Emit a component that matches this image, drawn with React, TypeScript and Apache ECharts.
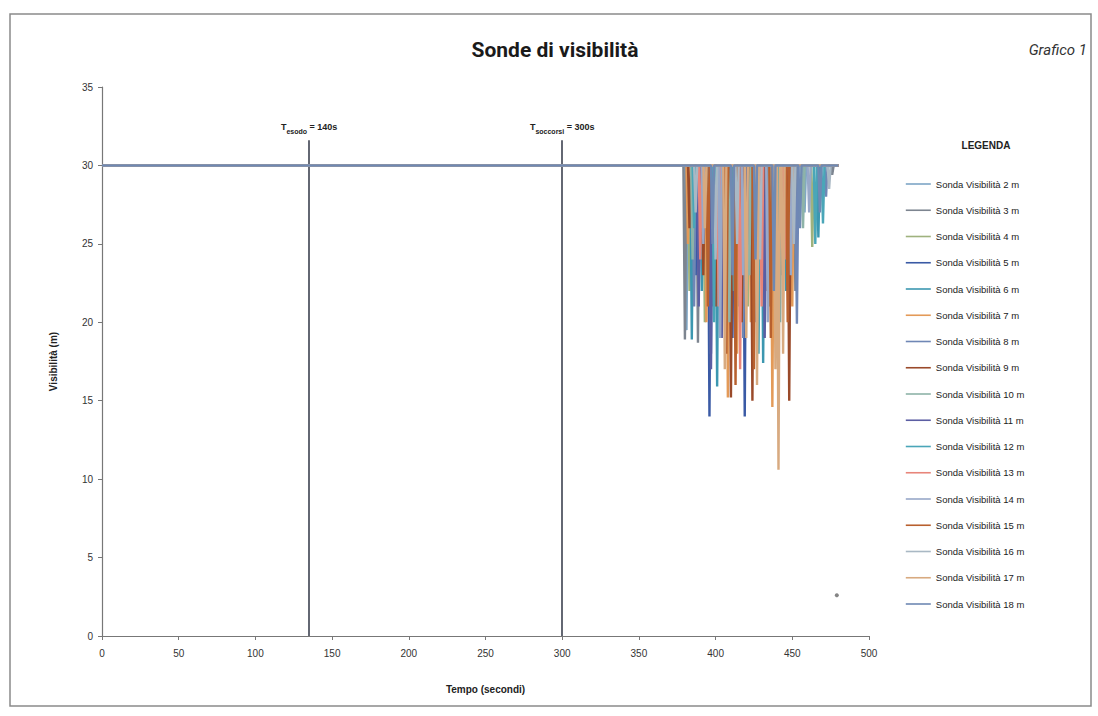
import React, { useEffect, useRef } from "react";
import * as echarts from "echarts";

type P = [number, number];

const seriesNames: string[] = [
  "Sonda Visibilità 2 m", "Sonda Visibilità 3 m", "Sonda Visibilità 4 m", "Sonda Visibilità 5 m",
  "Sonda Visibilità 6 m", "Sonda Visibilità 7 m", "Sonda Visibilità 8 m", "Sonda Visibilità 9 m",
  "Sonda Visibilità 10 m", "Sonda Visibilità 11 m", "Sonda Visibilità 12 m", "Sonda Visibilità 13 m",
  "Sonda Visibilità 14 m", "Sonda Visibilità 15 m", "Sonda Visibilità 16 m", "Sonda Visibilità 17 m",
  "Sonda Visibilità 18 m",
];

const seriesColors: string[] = [
  "#7ea6c6", "#7d8590", "#9fb27e", "#3a5aa5", "#3c97b0", "#e39a58", "#6f87b5", "#9a4a2a",
  "#8eb3a8", "#5b5ea3", "#4aa6b8", "#e8857a", "#98a8c8", "#b8602e", "#a9b8c4", "#d8aa80",
  "#6f89b3",
];

const s2m: P[] = [[0,30],[380,30],[381,19.5],[382,30],[388,30],[389,23],[390,30],[398,30],[399,21],[400,30],[412,30],[413,24],[414,30],[426,30],[427,22],[428,30],[443,30],[444,25],[445,30],[457,30],[458,27],[459,30],[480,30]];
const s3m: P[] = [[0,30],[379,30],[380,18.9],[381,30],[387.5,30],[388.5,18.7],[389.5,30],[402,30],[403,23],[404,30],[415,30],[416,20],[417,30],[433,30],[434,24],[435,30],[451,30],[452,22],[453,30],[475,30],[476,29.4],[477,30],[480,30]];
const s4m: P[] = [[0,30],[382,30],[383,22],[384,30],[392,30],[393,20],[394,30],[405,30],[406,24],[407,30],[420,30],[421,21],[422,30],[436,30],[437,23],[438,30],[462,30],[463,24.8],[464,30],[480,30]];
const s5m: P[] = [[0,30],[386,30],[387,23],[388,30],[395,30],[396,14],[397,30],[398,21],[399,30],[410,30],[411,19],[412,30],[418,30],[419,14],[420,30],[425,30],[426,20],[427,30],[439,30],[440,24],[441,30],[480,30]];
const s6m: P[] = [[0,30],[383.5,30],[384.5,18.9],[385.5,30],[390,30],[391,22],[392,30],[400,30],[401,15.9],[402,30],[414,30],[415,21],[416,30],[430,30],[431,17.4],[432,30],[445,30],[446,22],[447,30],[466,30],[467,25.4],[468,30],[480,30]];
const s7m: P[] = [[0,30],[381,30],[382,25],[383,30],[393,30],[394,20],[395,30],[407,30],[408,15.2],[409,30],[413,30],[414,18],[415,30],[422,30],[423,20],[424,30],[436,30],[437,14.6],[438,30],[449,30],[450,21],[451,30],[480,30]];
const s8m: P[] = [[0,30],[385,30],[386,21],[387,30],[396,30],[397,18],[398,30],[404,30],[405,22],[406,30],[417,30],[418,19],[419,30],[428,30],[429,23],[430,30],[452,30],[453,19.9],[454,30],[471,30],[472,28],[473,30],[480,30]];
const s9m: P[] = [[0,30],[382,30],[383,26],[384,30],[391,30],[392,23],[393,30],[399,30],[400,21],[401,30],[409,30],[410,15.2],[411,30],[416,30],[417,20],[418,30],[423,30],[424,15],[425,30],[432,30],[433,22],[434,30],[447,30],[448,15],[449,30],[480,30]];
const s10m: P[] = [[0,30],[384,30],[385,24],[386,30],[394,30],[395,22],[396,30],[408,30],[409,20],[410,30],[421,30],[422,23],[423,30],[434,30],[435,21],[436,30],[456,30],[457,26],[458,30],[480,30]];
const s11m: P[] = [[0,30],[388,30],[389,21],[390,30],[396,30],[397,17],[398,30],[403,30],[404,19],[405,30],[419,30],[420,22],[421,30],[431,30],[432,19],[433,30],[442,30],[443,23],[444,30],[480,30]];
const s12m: P[] = [[0,30],[385,30],[386,26],[387,30],[398,30],[399,20],[400,30],[411,30],[412,22],[413,30],[427,30],[428,18],[429,30],[441,30],[442,20],[443,30],[464,30],[465,25],[466,30],[469,30],[470,26.3],[471,30],[480,30]];
const s13m: P[] = [[0,30],[389,30],[390,24],[391,30],[401,30],[402,21],[403,30],[415,30],[416,17],[417,30],[429,30],[430,21],[431,30],[444,30],[445,24],[446,30],[480,30]];
const s14m: P[] = [[0,30],[391,30],[392,25],[393,30],[402,30],[403,19],[404,30],[417,30],[418,23],[419,30],[433,30],[434,20],[435,30],[448,30],[449,23],[450,30],[460,30],[461,27],[462,30],[480,30]];
const s15m: P[] = [[0,30],[394,30],[395,21],[396,30],[406,30],[407,18],[408,30],[412,30],[413,16],[414,30],[424,30],[425,17],[426,30],[435,30],[436,19],[437,30],[446,30],[447,20],[448,30],[480,30]];
const s16m: P[] = [[0,30],[386,30],[387,27],[388,30],[399,30],[400,24],[401,30],[413,30],[414,25],[415,30],[428,30],[429,24],[430,30],[450,30],[451,25],[452,30],[473,30],[474,28.5],[475,30],[480,30]];
const s17m: P[] = [[0,30],[392,30],[393,26],[394,30],[405,30],[406,17],[407,30],[419,30],[420,19],[421,30],[426,30],[427,16],[428,30],[438,30],[439,17],[440,30],[441,10.6],[442,30],[443,30],[444,18],[445,30],[480,30]];
const s18m: P[] = [[0,30],[397,30],[398,25],[399,30],[410,30],[411,23],[412,30],[425,30],[426,24],[427,30],[437,30],[438,22],[439,30],[454,30],[455,26],[456,30],[467,30],[468,27],[469,30],[480,30]];

const seriesData: P[][] = [s2m, s3m, s4m, s5m, s6m, s7m, s8m, s9m, s10m, s11m, s12m, s13m, s14m, s15m, s16m, s17m, s18m];

// event markers (time, top of line)
const eventTimes: number[] = [135, 300];
const eventTop: number = 31.6;
const eventSub: string[] = ["esodo", "soccorsi"];
const eventValues: string[] = ["140s", "300s"];

const strayPoints: P[] = [[479, 2.6]];

const xTicks = { min: 0, max: 500, interval: 50 };
const yTicks = { min: 0, max: 35, interval: 5 };

export default function App() {
  const ref = useRef<HTMLDivElement>(null);
  useEffect(() => {
    if (!ref.current) return;
    const chart = echarts.init(ref.current, undefined, { renderer: "svg" });
    const font = "Liberation Sans, Arial, sans-serif";
    const lines: any[] = seriesNames.map((name, i) => ({
      name,
      type: "line",
      data: seriesData[i],
      symbol: "none",
      showSymbol: false,
      lineStyle: { width: 2.4, color: seriesColors[i] },
      itemStyle: { color: seriesColors[i] },
      z: 2 + i,
    }));
    const markers = {
      name: "eventi",
      type: "line",
      data: [],
      symbol: "none",
      z: 30,
      markLine: {
        silent: true,
        symbol: "none",
        animation: false,
        lineStyle: { color: "#3d4250", width: 1.6, type: "solid" },
        label: {
          show: true,
          position: "end",
          distance: 5,
          fontFamily: font,
          color: "#222",
        },
        data: eventTimes.map((t, i) => [
          {
            coord: [t, 0],
            label: {
              formatter: `{a|T}{b|${eventSub[i]}}{a| = ${eventValues[i]}}`,
              rich: {
                a: { fontSize: 9, fontWeight: "bold", fontFamily: font, color: "#222", verticalAlign: "top", lineHeight: 13 },
                b: { fontSize: 7, fontWeight: "bold", fontFamily: font, color: "#222", verticalAlign: "bottom", lineHeight: 13 },
              },
            },
          },
          { coord: [t, eventTop] },
        ]),
      },
    };
    const stray = {
      name: "stray",
      type: "scatter",
      data: strayPoints,
      symbolSize: 4,
      itemStyle: { color: "#666" },
      z: 40,
    };
    chart.setOption({
      animation: false,
      backgroundColor: "#fff",
      grid: { left: 102, right: 229, top: 87, bottom: 80, containLabel: false },
      legend: {
        data: seriesNames,
        orient: "vertical",
        left: 905,
        top: 179,
        padding: 0,
        itemWidth: 25,
        itemHeight: 10,
        itemGap: 16.25,
        itemStyle: { opacity: 0 },
        lineStyle: { width: 1.6 },
        textStyle: { fontSize: 9.5, color: "#222", fontFamily: font },
        selectedMode: false,
      },
      xAxis: {
        type: "value",
        ...xTicks,
        name: "Tempo (secondi)",
        nameLocation: "middle",
        nameGap: 48,
        nameTextStyle: { fontSize: 10, fontWeight: "bold", color: "#222", fontFamily: font },
        axisLine: { show: true, lineStyle: { color: "#777", width: 1.2 } },
        axisTick: { show: true, length: 4, lineStyle: { color: "#777" } },
        axisLabel: { fontSize: 10, color: "#333", margin: 12, fontFamily: font },
        splitLine: { show: false },
      },
      yAxis: {
        type: "value",
        ...yTicks,
        name: "Visibilità (m)",
        nameLocation: "middle",
        nameGap: 44,
        nameTextStyle: { fontSize: 10, fontWeight: "bold", color: "#222", fontFamily: font },
        axisLine: { show: true, lineStyle: { color: "#777", width: 1.2 } },
        axisTick: { show: true, length: 4, lineStyle: { color: "#777" } },
        axisLabel: { fontSize: 10, color: "#333", margin: 9, fontFamily: font },
        splitLine: { show: false },
      },
      graphic: [
        {
          type: "rect",
          shape: { x: 10, y: 14, width: 1081, height: 692 },
          style: { fill: "none", stroke: "#8a8a8a", lineWidth: 1.5 },
          silent: true,
        },
        {
          type: "text",
          x: 555,
          y: 50,
          style: {
            text: "Sonde di visibilità",
            fontSize: 21,
            fontWeight: "bold",
            fontFamily: "Roboto, sans-serif",
            fill: "#1a1a1a",
            align: "center",
            verticalAlign: "middle",
          },
        },
        {
          type: "text",
          x: 1087,
          y: 50,
          style: {
            text: "Grafico 1",
            fontSize: 15,
            fontStyle: "italic",
            fontFamily: "Roboto, sans-serif",
            fill: "#333",
            align: "right",
            verticalAlign: "middle",
          },
        },
        {
          type: "text",
          x: 986,
          y: 145,
          style: {
            text: "LEGENDA",
            fontSize: 10,
            fontWeight: "bold",
            fontFamily: font,
            fill: "#222",
            align: "center",
            verticalAlign: "middle",
          },
        },
      ],
      series: [...lines, markers, stray],
    });
    return () => chart.dispose();
  }, []);
  return (
    <div
      ref={ref}
      style={{ position: "fixed", left: 0, top: 0, width: 1098, height: 716, background: "#fff" }}
    />
  );
}
